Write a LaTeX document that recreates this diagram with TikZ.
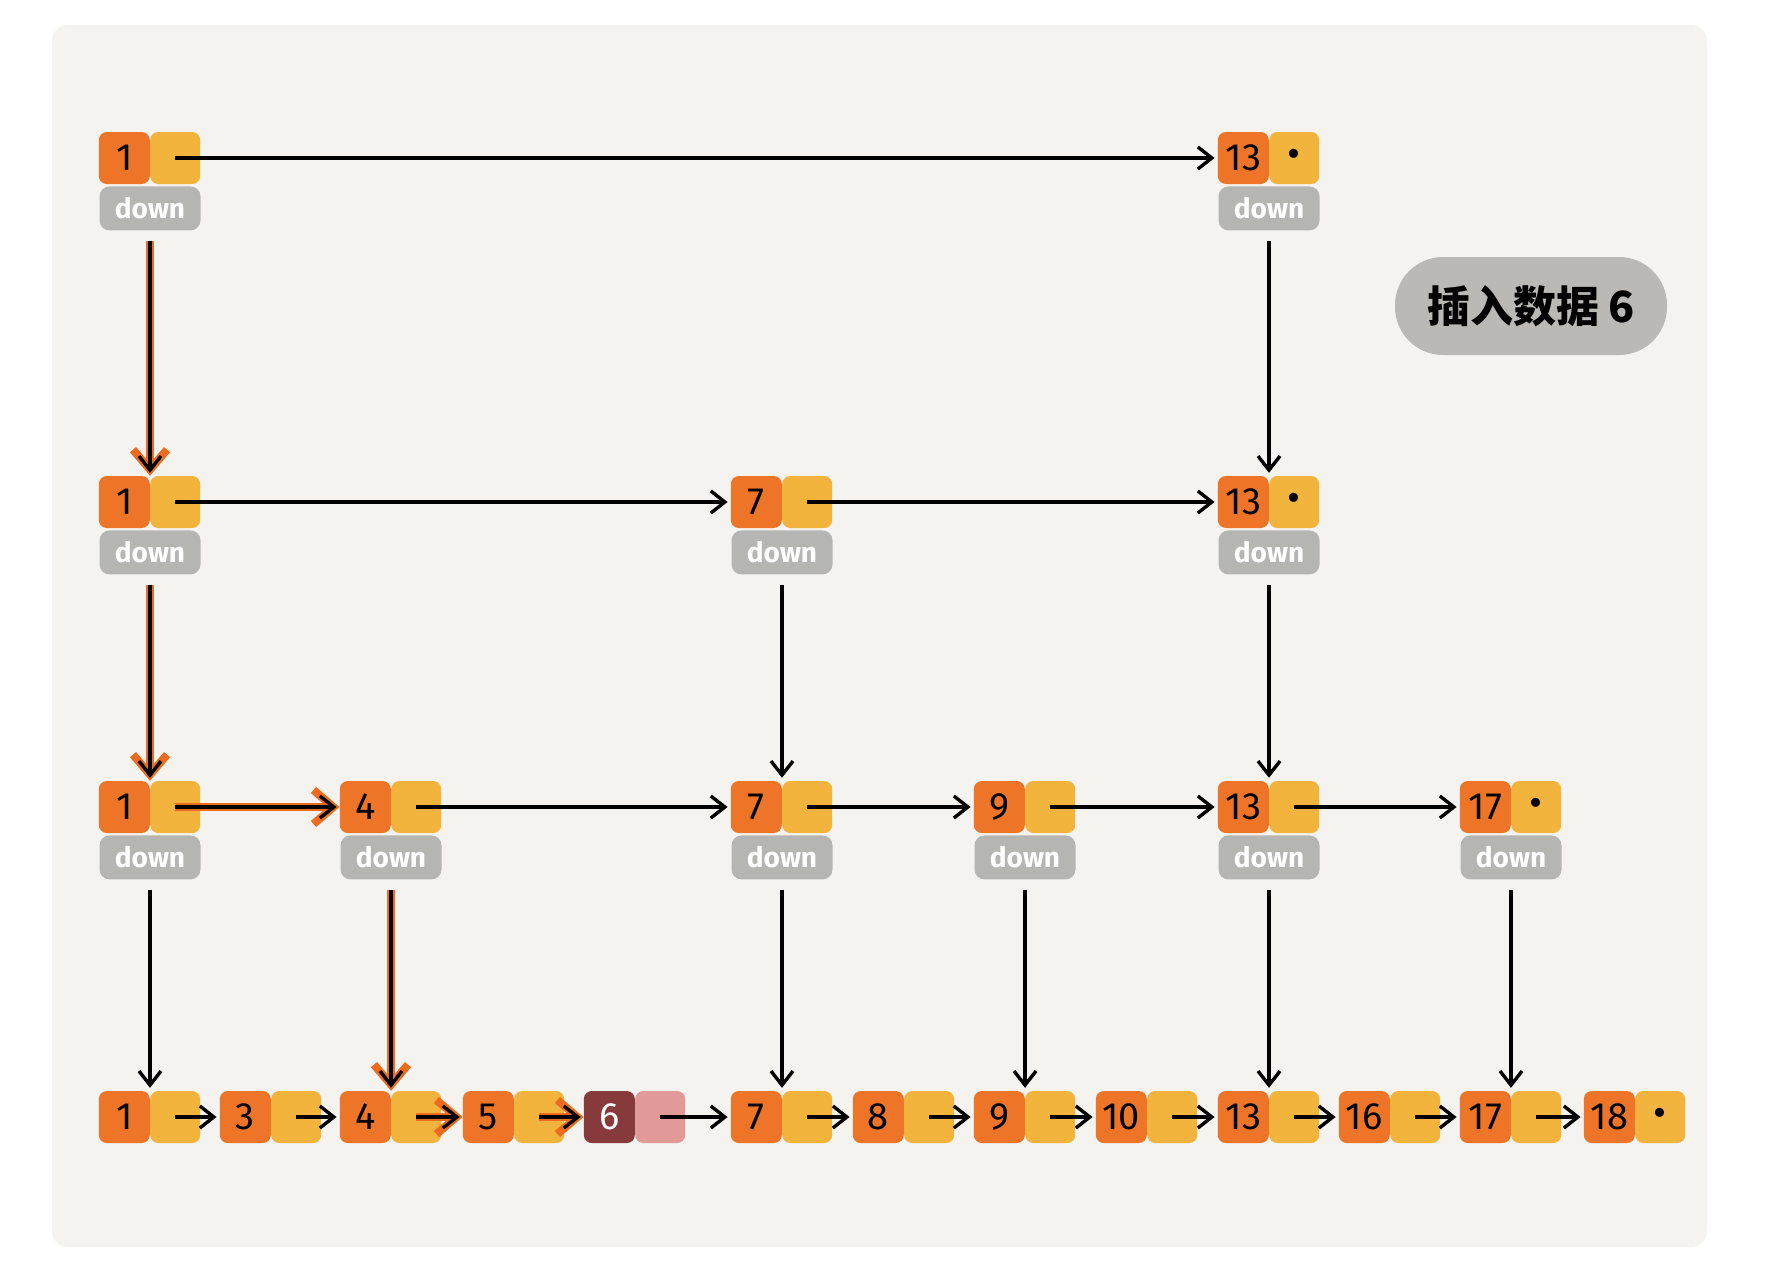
\documentclass[tikz,border=0pt]{standalone}
\usepackage{fontspec}
\setmainfont{Fira Sans}
\newfontfamily\cjk{Noto Sans CJK SC}
\usetikzlibrary{positioning, arrows.meta}

\definecolor{paper}{HTML}{F4F3EF}
\definecolor{keyorange}{HTML}{EE7528}
\definecolor{ptryellow}{HTML}{F2B43C}
\definecolor{downgray}{HTML}{B5B5B2}
\definecolor{newkey}{HTML}{873A3C}
\definecolor{newptr}{HTML}{E29A98}
\definecolor{taggray}{HTML}{BAB9B5}
\definecolor{pathorange}{HTML}{EE6A1C}

\begin{document}
\begin{tikzpicture}[
    x=1pt, y=-1pt,
    key/.style={rectangle, rounded corners=8pt, fill=keyorange, minimum width=51pt, minimum height=52pt, inner sep=0pt, font=\fontsize{38}{38}\selectfont, anchor=east},
    ptr/.style={rectangle, rounded corners=8pt, fill=ptryellow, minimum width=50pt, minimum height=52pt, inner sep=0pt, font=\fontsize{40}{40}\selectfont},
    downbox/.style={rectangle, rounded corners=10pt, fill=downgray, minimum width=101pt, minimum height=44pt, inner sep=0pt, text=white, font=\bfseries\fontsize{28}{28}\selectfont},
    tag/.style={rectangle, rounded corners=48pt, fill=taggray, minimum width=272pt, minimum height=98pt, font=\cjk\bfseries\fontsize{43}{43}\selectfont},
    arrow/.style={-{Straight Barb[length=14pt, width=22pt]}, line width=3.4pt, shorten >=3pt},
    searchpath/.style={-{Straight Barb[length=20pt, width=34pt]}, draw=pathorange, line width=8pt, shorten >=0pt}
  ]
  \useasboundingbox (0,0) rectangle (1768,1278);
  \fill[paper, rounded corners=16pt] (52,25) rectangle (1707,1247);

  % level 4
  \node[key] (a1) at (150,158) {1};
  \node[ptr, right=0pt of a1] (a1n) {};
  \node[downbox, below=2pt of a1.south east] (a1d) {down};
  \node[key] (a13) at (1269,158) {13};
  \node[ptr, right=0pt of a13] (a13n) {\textbullet};
  \node[downbox, below=2pt of a13.south east] (a13d) {down};

  % level 3
  \node[key] (b1) at (150,502) {1};
  \node[ptr, right=0pt of b1] (b1n) {};
  \node[downbox, below=2pt of b1.south east] (b1d) {down};
  \node[key] (b7) at (782,502) {7};
  \node[ptr, right=0pt of b7] (b7n) {};
  \node[downbox, below=2pt of b7.south east] (b7d) {down};
  \node[key] (b13) at (1269,502) {13};
  \node[ptr, right=0pt of b13] (b13n) {\textbullet};
  \node[downbox, below=2pt of b13.south east] (b13d) {down};

  % level 2
  \node[key] (c1) at (150,807) {1};
  \node[ptr, right=0pt of c1] (c1n) {};
  \node[downbox, below=2pt of c1.south east] (c1d) {down};
  \node[key] (c4) at (391,807) {4};
  \node[ptr, right=0pt of c4] (c4n) {};
  \node[downbox, below=2pt of c4.south east] (c4d) {down};
  \node[key] (c7) at (782,807) {7};
  \node[ptr, right=0pt of c7] (c7n) {};
  \node[downbox, below=2pt of c7.south east] (c7d) {down};
  \node[key] (c9) at (1025,807) {9};
  \node[ptr, right=0pt of c9] (c9n) {};
  \node[downbox, below=2pt of c9.south east] (c9d) {down};
  \node[key] (c13) at (1269,807) {13};
  \node[ptr, right=0pt of c13] (c13n) {};
  \node[downbox, below=2pt of c13.south east] (c13d) {down};
  \node[key] (c17) at (1511,807) {17};
  \node[ptr, right=0pt of c17] (c17n) {\textbullet};
  \node[downbox, below=2pt of c17.south east] (c17d) {down};

  % level 1
  \node[key] (d1) at (150,1117) {1};
  \node[ptr, right=0pt of d1] (d1n) {};
  \node[key] (d3) at (271,1117) {3};
  \node[ptr, right=0pt of d3] (d3n) {};
  \node[key] (d4) at (391,1117) {4};
  \node[ptr, right=0pt of d4] (d4n) {};
  \node[key] (d5) at (514,1117) {5};
  \node[ptr, right=0pt of d5] (d5n) {};
  \node[key, fill=newkey, text=white] (d6) at (635,1117) {6};
  \node[ptr, fill=newptr, right=0pt of d6] (d6n) {};
  \node[key] (d7) at (782,1117) {7};
  \node[ptr, right=0pt of d7] (d7n) {};
  \node[key] (d8) at (904,1117) {8};
  \node[ptr, right=0pt of d8] (d8n) {};
  \node[key] (d9) at (1025,1117) {9};
  \node[ptr, right=0pt of d9] (d9n) {};
  \node[key] (d10) at (1147,1117) {10};
  \node[ptr, right=0pt of d10] (d10n) {};
  \node[key] (d13) at (1269,1117) {13};
  \node[ptr, right=0pt of d13] (d13n) {};
  \node[key] (d16) at (1390,1117) {16};
  \node[ptr, right=0pt of d16] (d16n) {};
  \node[key] (d17) at (1511,1117) {17};
  \node[ptr, right=0pt of d17] (d17n) {};
  \node[key] (d18) at (1635,1117) {18};
  \node[ptr, right=0pt of d18] (d18n) {\textbullet};

  \node[tag] (title) at (1531,306) {插入数据 6};

  % search path for 6
  \draw[searchpath, shorten <=10pt] (a1d.south) -- (b1.north east);
  \draw[searchpath, shorten <=10pt] (b1d.south) -- (c1.north east);
  \draw[searchpath] (c1n.center) -- (c4.west);
  \draw[searchpath, shorten <=10pt] (c4d.south) -- (d4.north east);
  \draw[searchpath] (d4n.center) -- (d5.west);
  \draw[searchpath] (d5n.center) -- (d6.west);

  % next pointers
  \draw[arrow] (a1n.center) -- (a13.west);
  \draw[arrow] (b1n.center) -- (b7.west);
  \draw[arrow] (b7n.center) -- (b13.west);
  \draw[arrow] (c1n.center) -- (c4.west);
  \draw[arrow] (c4n.center) -- (c7.west);
  \draw[arrow] (c7n.center) -- (c9.west);
  \draw[arrow] (c9n.center) -- (c13.west);
  \draw[arrow] (c13n.center) -- (c17.west);
  \draw[arrow] (d1n.center) -- (d3.west);
  \draw[arrow] (d3n.center) -- (d4.west);
  \draw[arrow] (d4n.center) -- (d5.west);
  \draw[arrow] (d5n.center) -- (d6.west);
  \draw[arrow] (d6n.center) -- (d7.west);
  \draw[arrow] (d7n.center) -- (d8.west);
  \draw[arrow] (d8n.center) -- (d9.west);
  \draw[arrow] (d9n.center) -- (d10.west);
  \draw[arrow] (d10n.center) -- (d13.west);
  \draw[arrow] (d13n.center) -- (d16.west);
  \draw[arrow] (d16n.center) -- (d17.west);
  \draw[arrow] (d17n.center) -- (d18.west);

  % down pointers
  \draw[arrow, shorten <=10pt] (a1d.south) -- (b1.north east);
  \draw[arrow, shorten <=10pt] (a13d.south) -- (b13.north east);
  \draw[arrow, shorten <=10pt] (b1d.south) -- (c1.north east);
  \draw[arrow, shorten <=10pt] (b7d.south) -- (c7.north east);
  \draw[arrow, shorten <=10pt] (b13d.south) -- (c13.north east);
  \draw[arrow, shorten <=10pt] (c1d.south) -- (d1.north east);
  \draw[arrow, shorten <=10pt] (c4d.south) -- (d4.north east);
  \draw[arrow, shorten <=10pt] (c7d.south) -- (d7.north east);
  \draw[arrow, shorten <=10pt] (c9d.south) -- (d9.north east);
  \draw[arrow, shorten <=10pt] (c13d.south) -- (d13.north east);
  \draw[arrow, shorten <=10pt] (c17d.south) -- (d17.north east);
\end{tikzpicture}
\end{document}
